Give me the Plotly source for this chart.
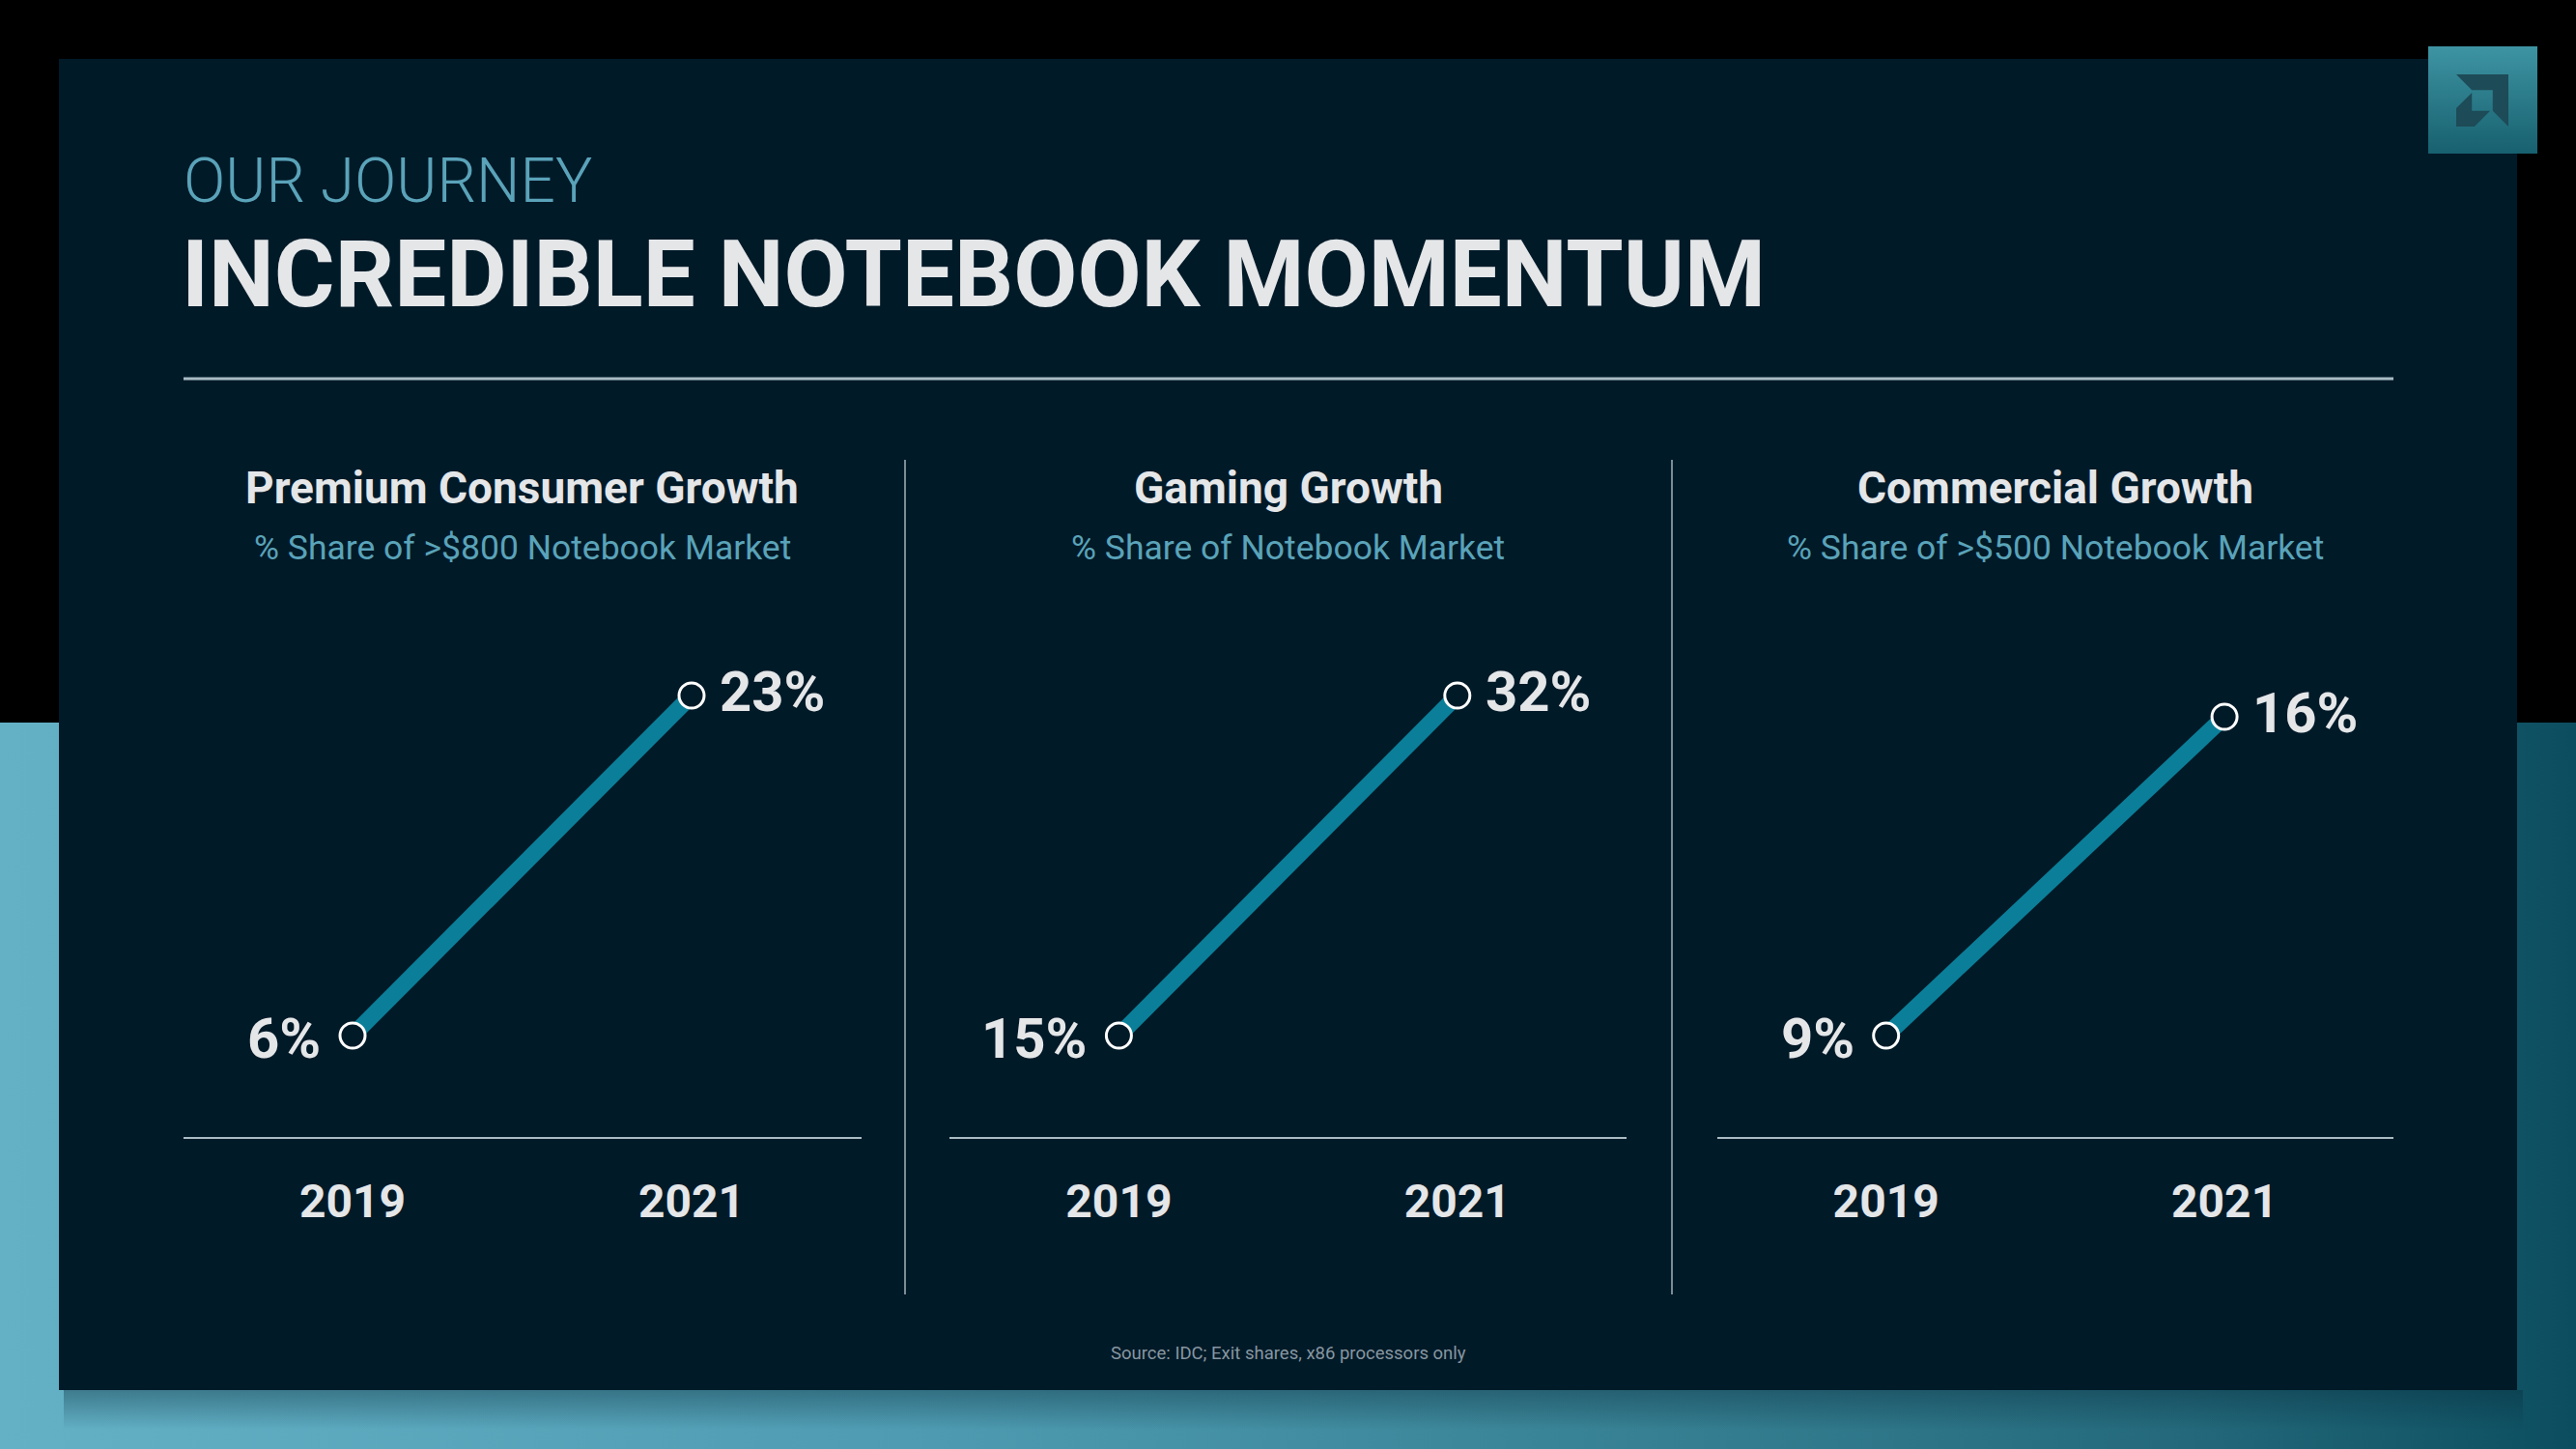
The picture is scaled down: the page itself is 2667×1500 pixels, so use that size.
import plotly.graph_objects as go

# ---------------- data ----------------
YEARS = ["2019", "2021"]
PANEL_TITLES = ["Premium Consumer Growth", "Gaming Growth", "Commercial Growth"]
PANEL_SUBTITLES = [
    "% Share of >$800 Notebook Market",
    "% Share of Notebook Market",
    "% Share of >$500 Notebook Market",
]
PREMIUM_SHARE = [6, 23]
GAMING_SHARE = [15, 32]
COMMERCIAL_SHARE = [9, 16]
SERIES = [PREMIUM_SHARE, GAMING_SHARE, COMMERCIAL_SHARE]
KICKER = "OUR JOURNEY"
HEADLINE = "INCREDIBLE NOTEBOOK MOMENTUM"
SOURCE_NOTE = "Source: IDC; Exit shares, x86 processors only"

# ---------------- layout constants ----------------
W, H = 2667, 1500
FONT = "Roboto, Liberation Sans, Arial, sans-serif"
PANEL_BG = "#011a28"
LINE_COLOR = "#0b7f99"
TEXT_LIGHT = "#e4e6e8"
TEAL_TEXT = "#5aa3b9"

def px(x):
    return x / W

def py(y):
    return 1 - y / H

X_DOMAINS = [(189.5, 891.5), (983.2, 1684.0), (1777.5, 2478.3)]
Y_DOMAIN = (py(1177), py(680))
Y_RANGES = [(0.929, 24.932), (9.929, 33.932), (6.773, 17.315)]

fig = go.Figure()

# ---------------- background decoration (xy subplot in pixel units) ----------------
fig.add_trace(go.Scatter(
    x=[0, W, W, 0, 0], y=[748, 748, H, H, 748], mode="none", fill="toself",
    fillcolor="#3f8aa0",
    fillgradient=dict(type="horizontal", start=0, stop=W,
                      colorscale=[[0, "#64b1c6"], [0.35, "#4f9cb2"], [0.6, "#3a8497"],
                                  [0.85, "#23697b"], [1, "#0c4e5f"]]),
    hoverinfo="skip", showlegend=False, xaxis="x", yaxis="y"))
# soft shadow under the slide panel
fig.add_trace(go.Scatter(
    x=[66, 2612, 2612, 66, 66], y=[1439, 1439, 1480, 1480, 1439], mode="none", fill="toself",
    fillcolor="rgba(5,40,55,0.2)",
    fillgradient=dict(type="vertical", start=1439, stop=1480,
                      colorscale=[[0, "rgba(8,45,60,0.4)"], [1, "rgba(8,45,60,0)"]]),
    hoverinfo="skip", showlegend=False, xaxis="x", yaxis="y"))
fig.add_trace(go.Scatter(
    x=[61, 2606, 2606, 61, 61], y=[61, 61, 1439, 1439, 61], mode="none", fill="toself",
    fillcolor=PANEL_BG, hoverinfo="skip", showlegend=False, xaxis="x", yaxis="y"))
fig.add_trace(go.Scatter(
    x=[2514, 2627, 2627, 2514, 2514], y=[48, 48, 159, 159, 48], mode="none", fill="toself",
    fillcolor="#2a7c8c",
    fillgradient=dict(type="vertical", start=48, stop=159,
                      colorscale=[[0, "#3e94a3"], [1, "#17606f"]]),
    hoverinfo="skip", showlegend=False, xaxis="x", yaxis="y"))

# ---------------- the three line charts ----------------
annotations = []
for i, vals in enumerate(SERIES):
    n = i + 2
    fig.add_trace(go.Scatter(
        x=YEARS, y=vals, mode="lines+markers",
        line=dict(color=LINE_COLOR, width=17),
        marker=dict(size=26, color=PANEL_BG, line=dict(color="white", width=3)),
        cliponaxis=False, hoverinfo="skip", showlegend=False,
        xaxis=f"x{n}", yaxis=f"y{n}"))
    for j, v in enumerate(vals):
        annotations.append(dict(
            x=j, y=v, xref=f"x{n}", yref=f"y{n}", text=f"{v}%", showarrow=False,
            xanchor="right" if j == 0 else "left", yanchor="middle",
            xshift=-31 if j == 0 else 27, yshift=-3 if j == 0 else 4,
            font=dict(family=FONT, size=58, color=TEXT_LIGHT, weight="bold")))
    cx = (X_DOMAINS[i][0] + X_DOMAINS[i][1]) / 2
    annotations.append(dict(
        x=px(cx), y=py(505), xref="paper", yref="paper", text=PANEL_TITLES[i],
        showarrow=False, xanchor="center", yanchor="middle",
        font=dict(family=FONT, size=46, color=TEXT_LIGHT, weight="bold")))
    annotations.append(dict(
        x=px(cx), y=py(567), xref="paper", yref="paper", text=PANEL_SUBTITLES[i],
        showarrow=False, xanchor="center", yanchor="middle",
        font=dict(family=FONT, size=35.5, color=TEAL_TEXT)))

annotations += [
    dict(x=px(188), y=py(187), xref="paper", yref="paper", text=KICKER, showarrow=False,
         xanchor="left", yanchor="middle",
         font=dict(family=FONT, size=64, color=TEAL_TEXT, weight=300)),
    dict(x=px(186), y=py(284), xref="paper", yref="paper", text=HEADLINE, showarrow=False,
         xanchor="left", yanchor="middle",
         font=dict(family=FONT, size=96, color=TEXT_LIGHT, weight="bold")),
    dict(x=px(1334), y=py(1401), xref="paper", yref="paper", text=SOURCE_NOTE,
         showarrow=False, xanchor="center", yanchor="middle",
         font=dict(family=FONT, size=18.5, color="#8796a0")),
]

shapes = [
    dict(type="line", xref="x", yref="y", x0=190, x1=2478, y0=392, y1=392,
         line=dict(color="#a9bcc4", width=3)),
    dict(type="line", xref="x", yref="y", x0=937, x1=937, y0=476, y1=1340,
         line=dict(color="#7a8c94", width=2)),
    dict(type="line", xref="x", yref="y", x0=1731, x1=1731, y0=476, y1=1340,
         line=dict(color="#7a8c94", width=2)),
]
# AMD arrow mark inside the logo tile
LX, LY, LS = 2543, 77, 0.54
def lp(pts):
    return "M " + " L ".join(f"{LX + a * LS:.1f},{LY + b * LS:.1f}" for a, b in pts) + " Z"
shapes.append(dict(type="path", xref="x", yref="y",
                   path=lp([(0, 0), (100, 0), (100, 100), (70, 70), (70, 30), (30, 30)]),
                   fillcolor="#1d4b57", line=dict(width=0)))
shapes.append(dict(type="path", xref="x", yref="y",
                   path=lp([(30, 35), (0, 65), (0, 100), (35, 100), (65, 70), (30, 70)]),
                   fillcolor="#1d4b57", line=dict(width=0)))

layout = dict(
    width=W, height=H, margin=dict(l=0, r=0, t=0, b=0),
    paper_bgcolor="#000000", plot_bgcolor="rgba(0,0,0,0)",
    showlegend=False, annotations=annotations, shapes=shapes,
    xaxis=dict(domain=[0, 1], range=[0, W], visible=False, fixedrange=True, anchor="y"),
    yaxis=dict(domain=[0, 1], range=[H, 0], visible=False, fixedrange=True, anchor="x"),
)
for i in range(3):
    n = i + 2
    layout[f"xaxis{n}"] = dict(
        domain=[px(X_DOMAINS[i][0]), px(X_DOMAINS[i][1])], anchor=f"y{n}",
        type="category", range=[-0.5, 1.5], fixedrange=True,
        showline=True, linecolor="#a9bcc4", linewidth=2,
        showgrid=False, zeroline=False,
        ticks="outside", ticklen=23, tickcolor="rgba(0,0,0,0)",
        tickfont=dict(family=FONT, size=48, color=TEXT_LIGHT, weight="bold"))
    layout[f"yaxis{n}"] = dict(
        domain=list(Y_DOMAIN), anchor=f"x{n}", range=list(Y_RANGES[i]),
        visible=False, fixedrange=True)

fig.update_layout(**layout)
fig.write_html(
    "out.html", config={"displayModeBar": False},
    post_script="document.body.style.margin='0px';document.body.style.padding='0px';"
                "document.documentElement.style.overflow='hidden';")
